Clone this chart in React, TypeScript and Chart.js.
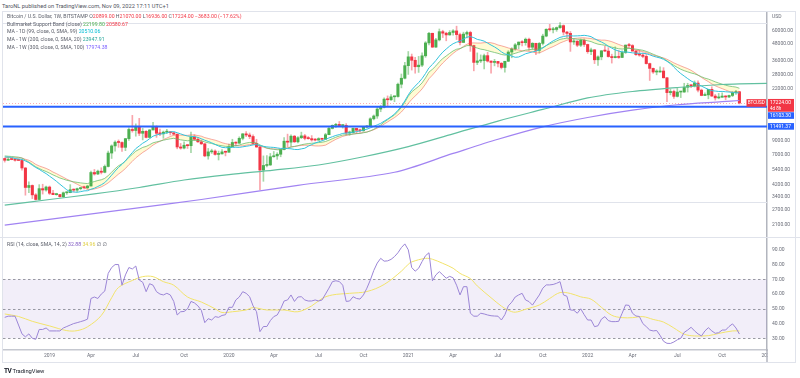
import React, { useEffect, useRef } from "react";
import { Chart, registerables } from "chart.js";

Chart.register(...registerables);

const FONT = 'Roboto, "Noto Sans", "DejaVu Sans", sans-serif';
Chart.defaults.font.family = FONT;

const UP = "#4caf50";
const DOWN = "#f23645";
const BLUE = "#2962ff";
const AXIS_TEXT = "#6a6d78";

// ---- weekly BTCUSD candles (index 0 = week of 2018-10-08) ----
const opens = [
  6600, 6400, 6500, 6480, 6400, 6380, 5600, 4000, 4140, 3520,
  3250, 3920, 3830, 4030, 3620, 3535, 3540, 3410, 3650, 3660,
  3850, 3820, 3920, 3990, 3980, 4100, 5180, 5050, 5300, 5200,
  5750, 7250, 8200, 8750, 8700, 8000, 9300, 10900, 10700, 11400,
  10200, 10550, 9500, 10800, 11500, 10200, 10100, 10400, 10400, 10300,
  10050, 8050, 7900, 8300, 8230, 9550, 9200, 8800, 8500, 6900,
  7400, 7500, 7080, 7150, 7400, 7350, 8100, 8700, 8600, 9350,
  10100, 9900, 9650, 8550, 8050, 5400, 5850, 5900, 6800, 6900,
  7100, 7700, 8900, 8750, 9700, 8800, 9450, 9750, 9350, 9300,
  9100, 9070, 9300, 9200, 9950, 11100, 11700, 11900, 11650, 11700,
  10250, 10300, 11100, 10750, 10650, 11350, 11500, 13100, 13750, 15500,
  16000, 18400, 18200, 19150, 19250, 23800, 26400, 32800, 38200, 36000,
  32200, 33100, 38900, 48600, 57400, 45200, 51200, 59000, 57500, 55800,
  58200, 59800, 56100, 49000, 56600, 58200, 46400, 34700, 35600, 35800,
  39000, 35500, 34700, 35300, 34200, 31800, 35400, 41500, 43800, 47000,
  49300, 48800, 51800, 45100, 48300, 42700, 48200, 54700, 61500, 61000,
  61300, 63300, 65500, 58600, 57300, 49400, 50100, 46700, 50800, 47300,
  41800, 43100, 36300, 38200, 42400, 42200, 38400, 37700, 38400, 37800,
  41200, 46800, 46400, 42200, 39700, 39400, 38500, 34000, 31300, 29400,
  29400, 29900, 26600, 20600, 21000, 19300, 20800, 20800, 22600, 23300,
  23200, 24300, 21500, 19600, 19800, 21800, 19400, 18800, 19000, 19400,
  19100, 19600, 20600, 20899,
];
const highs = [
  6650, 6750, 6560, 6550, 6550, 6500, 5650, 4400, 4180, 3600,
  4200, 4230, 4100, 4100, 3800, 3620, 3560, 3700, 3700, 4200,
  3900, 3950, 4000, 4100, 4150, 5300, 5460, 5400, 5620, 5900,
  7500, 8350, 8950, 9100, 8800, 9350, 11200, 13900, 12000, 13200,
  11100, 10700, 10900, 12300, 11600, 10950, 10600, 10900, 10480, 10300,
  10050, 8550, 8800, 8400, 10400, 9950, 9500, 9100, 8550, 7850,
  7750, 7650, 7500, 7700, 7500, 8450, 9200, 8800, 9600, 10150,
  10500, 10250, 9950, 9200, 8150, 6900, 6950, 7200, 7450, 7300,
  7700, 9450, 10050, 9950, 9850, 9650, 10400, 10000, 9650, 9800,
  9300, 9450, 9350, 10200, 11450, 11800, 12100, 12500, 11800, 12050,
  10600, 11150, 11100, 10950, 11500, 11700, 13350, 14000, 15950, 16500,
  18800, 19450, 19900, 19400, 24300, 28400, 34800, 41900, 40100, 37900,
  38500, 40900, 49700, 58300, 57500, 52600, 61800, 60500, 58500, 60100,
  61300, 64900, 57500, 58500, 59600, 59500, 46700, 40900, 39500, 40000,
  41300, 35700, 36600, 35300, 34600, 35400, 42500, 44700, 48100, 49400,
  50500, 52900, 52900, 48800, 48300, 49000, 56500, 62000, 67000, 63700,
  64000, 69000, 66400, 59400, 59200, 51900, 50500, 52000, 52100, 47600,
  44500, 43500, 38900, 42600, 45800, 44800, 40000, 45400, 42600, 42300,
  46900, 48200, 47200, 42500, 42900, 40800, 40000, 34300, 31500, 30600,
  32200, 31700, 26800, 21900, 21500, 22500, 21000, 24200, 24200, 23500,
  25200, 25200, 21900, 20500, 21800, 22800, 19950, 20300, 20500, 19500,
  19700, 21000, 21400, 21070,
];
const lows = [
  6200, 6380, 6450, 6300, 6360, 5400, 3500, 3650, 3300, 3220,
  3230, 3570, 3750, 3540, 3530, 3500, 3380, 3370, 3550, 3650,
  3700, 3700, 3830, 3900, 3900, 4100, 4950, 5000, 5050, 5150,
  5700, 6600, 7500, 8000, 7450, 7550, 9000, 10400, 9700, 9800,
  9100, 9400, 9400, 10800, 9500, 9800, 9350, 10150, 9900, 9900,
  7800, 7750, 7800, 7850, 7300, 9000, 8700, 8400, 6800, 6520,
  7200, 7000, 6430, 7100, 6900, 7350, 8050, 8250, 8550, 9100,
  9600, 9300, 8500, 8000, 3850, 4450, 5700, 5850, 6750, 6500,
  6800, 7650, 8100, 8150, 8700, 8650, 9300, 9100, 9200, 8900,
  8950, 9050, 9050, 9150, 9950, 11000, 11300, 11500, 11150, 9900,
  9850, 10250, 10150, 10400, 10550, 11200, 11400, 12850, 13200, 14800,
  15800, 16300, 18000, 17600, 19050, 22350, 26100, 28200, 30400, 28800,
  29200, 32300, 37900, 47000, 44900, 45000, 50300, 53300, 50400, 55500,
  55500, 51500, 47000, 48900, 53000, 42000, 30000, 33400, 34600, 31000,
  34900, 28800, 32700, 32100, 31000, 29300, 35200, 37600, 42800, 43900,
  46200, 46700, 42900, 43400, 39600, 40800, 46900, 54000, 59600, 57800,
  59400, 62300, 55600, 53500, 42000, 47300, 45500, 45600, 45700, 40600,
  39600, 34000, 32900, 36300, 41700, 38000, 34300, 37500, 37200, 37600,
  40500, 44900, 42200, 39200, 38600, 37600, 33700, 25400, 28700, 28000,
  29300, 26500, 17600, 19800, 18600, 19100, 18900, 20700, 20800, 22400,
  22700, 20800, 19500, 19500, 18500, 19300, 18100, 18500, 19000, 18200,
  18900, 19200, 20000, 16936,
];
const closes = [
  6400, 6500, 6480, 6400, 6380, 5600, 4000, 4140, 3520, 3250,
  3920, 3830, 4030, 3620, 3535, 3540, 3410, 3650, 3660, 3850,
  3820, 3920, 3990, 3980, 4100, 5180, 5050, 5300, 5200, 5750,
  7250, 8200, 8750, 8700, 8000, 9300, 10900, 10700, 11400, 10200,
  10550, 9500, 10800, 11500, 10200, 10100, 10400, 10400, 10300, 10050,
  8050, 7900, 8300, 8230, 9550, 9200, 8800, 8500, 6900, 7400,
  7500, 7080, 7150, 7400, 7350, 8100, 8700, 8600, 9350, 10100,
  9900, 9650, 8550, 8050, 5400, 5850, 5900, 6800, 6900, 7100,
  7700, 8900, 8750, 9700, 8800, 9450, 9750, 9350, 9300, 9100,
  9070, 9300, 9200, 9950, 11100, 11700, 11900, 11650, 11700, 10250,
  10300, 11100, 10750, 10650, 11350, 11500, 13100, 13750, 15500, 16000,
  18400, 18200, 19150, 19250, 23800, 26400, 32800, 38200, 36000, 32200,
  33100, 38900, 48600, 57400, 45200, 51200, 59000, 57500, 55800, 58200,
  59800, 56100, 49000, 56600, 58200, 46400, 34700, 35600, 35800, 39000,
  35500, 34700, 35300, 34200, 31800, 35400, 41500, 43800, 47000, 49300,
  48800, 51800, 45100, 48300, 42700, 48200, 54700, 61500, 61000, 61300,
  63300, 65500, 58600, 57300, 49400, 50100, 46700, 50800, 47300, 41800,
  43100, 36300, 38200, 42400, 42200, 38400, 37700, 38400, 37800, 41200,
  46800, 46400, 42200, 39700, 39400, 38500, 34000, 31300, 29400, 29400,
  29900, 26600, 20600, 21000, 19300, 20800, 20800, 22600, 23300, 23200,
  24300, 21500, 19600, 19800, 21800, 19400, 18800, 19000, 19400, 19100,
  19600, 20600, 20900, 17224,
];

// ---- MA - 1D (99) ----
const ma99 = [
  6770, 6780, 6720, 6590, 6540, 6490, 6320, 6140, 5870, 5650,
  5470, 5260, 5080, 4860, 4660, 4450, 4230, 4030, 3840, 3710,
  3700, 3680, 3720, 3770, 3780, 3880, 3950, 4070, 4190, 4350,
  4620, 4950, 5310, 5660, 5960, 6340, 6830, 7310, 7830, 8190,
  8590, 8890, 9290, 9700, 9910, 10040, 10160, 10280, 10450, 10500,
  10300, 10100, 9880, 9730, 9660, 9640, 9500, 9280, 9050, 8860,
  8650, 8410, 8190, 8000, 7950, 7960, 7990, 8020, 8000, 8070,
  8150, 8230, 8350, 8390, 8240, 8150, 8060, 8020, 7990, 7920,
  7850, 7870, 7830, 7800, 7720, 7700, 7790, 7880, 8160, 8390,
  8620, 8800, 8960, 9170, 9410, 9610, 9830, 9970, 10180, 10240,
  10280, 10400, 10500, 10620, 10780, 10940, 11210, 11490, 11800, 12110,
  12570, 13040, 13570, 14210, 15180, 16270, 17850, 19810, 21580, 23050,
  24480, 26280, 28640, 31600, 33510, 35870, 38720, 41450, 43740, 46010,
  47940, 49210, 50140, 51890, 53680, 54210, 53220, 51660, 50990, 50120,
  48440, 46810, 45350, 43640, 41640, 40160, 39620, 38710, 37910, 38110,
  39120, 40280, 40940, 41610, 42120, 43090, 44470, 46420, 48510, 50360,
  51910, 53460, 54290, 54860, 54910, 54790, 54900, 55080, 55410, 54950,
  54120, 52320, 50690, 49340, 47840, 45900, 44410, 43060, 42230, 41590,
  41600, 41290, 40920, 40770, 40510, 40660, 40360, 39570, 38660, 38010,
  37460, 36610, 35390, 33940, 31980, 30150, 28620, 27400, 26250, 25160,
  24460, 23760, 23060, 22380, 21800, 21290, 21160, 21010, 21020, 20900,
  20810, 20670, 20500, 20510,
];

// ---- Bull market support band: 20W SMA & 21W EMA ----
const bandSma20 = [
  6750, 6690, 6680, 6670, 6690, 6650, 6510, 6400, 6210, 5960,
  5800, 5680, 5560, 5410, 5220, 5080, 4920, 4770, 4620, 4490,
  4360, 4230, 4100, 3980, 3870, 3850, 3900, 3960, 4040, 4170,
  4330, 4550, 4790, 5040, 5270, 5550, 5930, 6280, 6670, 6990,
  7320, 7600, 7940, 8320, 8620, 8870, 9140, 9390, 9650, 9860,
  9900, 9890, 9860, 9840, 9920, 9910, 9810, 9700, 9470, 9330,
  9180, 9060, 8880, 8670, 8530, 8430, 8340, 8250, 8210, 8210,
  8300, 8390, 8400, 8390, 8180, 8020, 7870, 7790, 7790, 7770,
  7780, 7870, 7950, 8070, 8140, 8210, 8260, 8300, 8300, 8250,
  8200, 8190, 8220, 8310, 8600, 8890, 9190, 9430, 9670, 9830,
  9960, 10070, 10170, 10220, 10350, 10450, 10620, 10840, 11150, 11490,
  11960, 12400, 12900, 13370, 14000, 14740, 15780, 17110, 18320, 19420,
  20560, 21950, 23840, 26180, 27870, 29860, 32150, 34340, 36360, 38470,
  40540, 42430, 43920, 45790, 47510, 48510, 48610, 48480, 48470, 48810,
  48930, 48720, 48050, 46890, 46220, 45430, 44560, 43870, 43430, 42990,
  42440, 42220, 42030, 41610, 40840, 40930, 41930, 43220, 44480, 45600,
  46990, 48530, 49690, 50850, 51730, 52460, 52720, 53070, 53090, 52710,
  52430, 51650, 51310, 51010, 50990, 50500, 49650, 48490, 47330, 46330,
  45500, 44550, 43730, 42850, 42350, 41770, 41130, 40160, 39260, 38640,
  37980, 37500, 36620, 35550, 34400, 33520, 32680, 31890, 31160, 30260,
  29140, 27890, 26760, 25770, 24890, 23930, 23170, 22560, 22060, 21540,
  21030, 20730, 20740, 20581,
];
const bandEma21 = [
  6900, 6860, 6830, 6790, 6750, 6650, 6410, 6200, 5960, 5710,
  5550, 5390, 5270, 5120, 4970, 4840, 4710, 4620, 4530, 4470,
  4410, 4370, 4330, 4300, 4280, 4360, 4430, 4510, 4570, 4680,
  4910, 5210, 5530, 5820, 6020, 6320, 6730, 7090, 7490, 7730,
  7990, 8130, 8370, 8650, 8790, 8910, 9050, 9170, 9270, 9350,
  9230, 9110, 9030, 8960, 9010, 9030, 9010, 8960, 8780, 8650,
  8550, 8410, 8300, 8220, 8140, 8130, 8190, 8220, 8330, 8490,
  8620, 8710, 8700, 8640, 8340, 8120, 7910, 7810, 7730, 7670,
  7680, 7790, 7870, 8040, 8110, 8230, 8370, 8460, 8540, 8590,
  8630, 8690, 8740, 8850, 9050, 9290, 9530, 9720, 9900, 9940,
  9970, 10070, 10130, 10180, 10290, 10400, 10640, 10930, 11340, 11770,
  12370, 12900, 13470, 13990, 14880, 15930, 17470, 19350, 20860, 21900,
  22910, 24370, 26570, 29370, 30810, 32670, 35060, 37100, 38800, 40560,
  42310, 43570, 44060, 45200, 46380, 46380, 45320, 44440, 43650, 43230,
  42530, 41820, 41220, 40590, 39790, 39390, 39580, 39960, 40600, 41390,
  42070, 42950, 43150, 43620, 43530, 43960, 44930, 46440, 47760, 48990,
  50300, 51680, 52310, 52760, 52460, 52240, 51740, 51650, 51260, 50400,
  49730, 48510, 47580, 47110, 46660, 45910, 45160, 44550, 43930, 43690,
  43970, 44190, 44010, 43620, 43230, 42800, 42000, 41030, 39970, 39010,
  38180, 37130, 35630, 34300, 32940, 31830, 30830, 30080, 29470, 28900,
  28480, 27840, 27090, 26430, 26010, 25410, 24810, 24280, 23840, 23410,
  23060, 22840, 22660, 22200,
];

// ---- long MAs (sampled weeks) ----
const ma200Weeks = [0, 13, 26, 39, 52, 65, 78, 91, 104, 117, 130, 143, 156, 169, 182, 195, 208, 213, 221];
const ma200Values = [2950, 3250, 3580, 4000, 4550, 5000, 5400, 5900, 6800, 8100, 10100, 12600, 15400, 18800, 21000, 22500, 23700, 23948, 24150];
const ma300Weeks = [0, 37, 57, 85, 113, 130, 143, 156, 169, 182, 195, 208, 213];
const ma300Values = [2090, 2780, 3250, 4150, 5200, 7200, 9200, 11400, 13400, 15200, 16700, 17600, 17974];

// ---- RSI (14) weekly ----
const rsiValues = [
  44.2, 45, 45, 45, 39, 33, 31, 33, 30, 29.3,
  36, 36, 37, 35, 35, 35, 35, 37, 38, 39,
  40, 40.6, 41.3, 42, 43, 57, 58, 57, 60, 62,
  74, 78, 80, 80, 66, 73, 78, 77, 79, 69.5,
  68, 61.6, 67, 66, 61.6, 60, 59.4, 60.5, 59.4, 55,
  45.8, 48, 48.2, 50, 55, 54, 52, 49, 40.6, 43.3,
  42.4, 44.7, 44.2, 45.5, 46, 51, 51, 56, 58, 61.6,
  60.5, 58.2, 52, 48, 34.5, 38, 38, 42, 44.7, 45.8,
  50, 55.3, 56, 59.4, 55, 58, 58.2, 56, 55.3, 55.3,
  56, 55.3, 56, 60, 64, 68.4, 69, 68.5, 66, 55,
  55.3, 58.2, 57, 56.6, 59.4, 64, 69.5, 76, 81, 84.2,
  82.3, 82.5, 83.5, 85.4, 88, 91.5, 94, 90, 78, 75.5,
  77.5, 82, 86, 88, 69, 73, 75.2, 73, 70.7, 72,
  71, 66, 59.4, 65, 65, 47, 45, 45, 47, 46.5,
  45.8, 45.3, 45.1, 45, 42.4, 46, 52, 54.5, 58, 59.4,
  60.5, 56, 54.9, 52.5, 56, 59.4, 64, 66.2, 66.2, 66.5,
  67.3, 68.4, 59.4, 58.5, 49.2, 49, 47, 50, 46, 42.4,
  42.4, 37.9, 38.5, 43, 44.7, 42, 41.3, 41.3, 41.5, 47,
  52.6, 52.3, 47, 45.1, 44.8, 40, 37.9, 35.6, 35, 35.3,
  32, 28, 26.6, 26.5, 27.5, 29, 30, 34, 35.6, 37.5,
  35, 33, 31.6, 35, 37.2, 35, 33.4, 33.8, 35.6, 35.6,
  38, 39.8, 37, 32.88,
];
const rsiSmaWeeks = [0, 4, 8, 13, 18, 21, 24, 28, 31, 33, 37, 40, 43, 46, 49, 53, 57, 61, 63, 66, 70, 72, 76, 81, 85, 89, 92, 95, 100, 105, 110, 115, 117, 118, 122, 124, 127, 130, 132, 135, 137, 141, 144, 146, 148, 151, 155, 158, 161, 164, 167, 170, 173, 176, 179, 182, 185, 188, 191, 194, 197, 200, 204, 207, 211, 213];
const rsiSmaValues = [46.5, 44.8, 41.5, 38.4, 35.2, 35.2, 37.8, 45.5, 57.5, 64.5, 69.2, 71.8, 71.8, 68.4, 66, 58, 54.6, 50, 47.5, 48, 49.2, 50.8, 49.2, 49.2, 48, 52, 57, 59.4, 60.5, 61.7, 66.5, 75.5, 80.2, 81.8, 84.2, 83.6, 80.8, 77.5, 74, 70.5, 65.5, 57.5, 51.8, 49, 47.7, 49.7, 52.6, 57, 61, 60.4, 58.1, 56.5, 51, 45.6, 44, 44, 44.7, 42.8, 41, 37, 32.8, 31.6, 31.8, 33.3, 35, 34.96];

// ---- levels, ticks, labels ----
const priceTicks = [60000, 48000, 36000, 28000, 22000, 9000, 7000, 5400, 4200, 3400, 2700, 2100];
const rsiTicks = [30, 40, 50, 60, 70, 80, 90];
const rsiBandLevels = [70, 50, 30];
const timeTickWeeks = [13, 25, 38, 52, 65, 78, 91, 104, 117, 130, 143, 156, 169, 182, 195, 208, 221];
const timeTickLabels = ["2019", "Apr", "Jul", "Oct", "2020", "Apr", "Jul", "Oct", "2021", "Apr", "Jul", "Oct", "2022", "Apr", "Jul", "Oct", "2023"];
const guideLevels = [69000, 3100];
const supportLevels = [16103.3, 11491.37];
const lastPrice = 17224;
const countdownLabel = "4d 8h";
const symbolLabel = "BTCUSD";
const currencyLabel = "USD";

const weeks = closes.map((_, i) => i);

const noPad = (s: any) => {
  s.paddingTop = 0;
  s.paddingBottom = 0;
  s.paddingLeft = 0;
  s.paddingRight = 0;
};

const mainOverlay = {
  id: "mainOverlay",
  beforeDatasetsDraw(chart: any) {
    const { ctx, chartArea: a, scales } = chart;
    const y = scales.y;
    ctx.save();
    ctx.strokeStyle = "#e0e3eb";
    ctx.lineWidth = 1;
    guideLevels.forEach((v) => {
      const py = Math.round(y.getPixelForValue(v)) + 0.5;
      ctx.beginPath();
      ctx.moveTo(a.left, py);
      ctx.lineTo(a.right, py);
      ctx.stroke();
    });
    ctx.strokeStyle = "rgba(242,54,69,0.4)";
    ctx.setLineDash([1, 2]);
    const lp = Math.round(y.getPixelForValue(lastPrice)) + 0.5;
    ctx.beginPath();
    ctx.moveTo(a.left, lp);
    ctx.lineTo(a.right, lp);
    ctx.stroke();
    ctx.restore();
  },
  afterDatasetsDraw(chart: any) {
    const { ctx, chartArea: a, scales } = chart;
    const y = scales.y;
    ctx.save();
    ctx.strokeStyle = BLUE;
    ctx.lineWidth = 2;
    supportLevels.forEach((v) => {
      const py = y.getPixelForValue(v);
      ctx.beginPath();
      ctx.moveTo(a.left, py);
      ctx.lineTo(a.right, py);
      ctx.stroke();
    });
    ctx.restore();
  },
  afterDraw(chart: any) {
    const { ctx, chartArea: a, scales } = chart;
    const y = scales.y;
    ctx.save();
    ctx.textBaseline = "middle";
    ctx.textAlign = "left";
    ctx.font = `5px ${FONT}`;
    ctx.fillStyle = AXIS_TEXT;
    ctx.fillText(currencyLabel, a.right + 5, 4.7);
    const yp = y.getPixelForValue(lastPrice);
    ctx.fillStyle = DOWN;
    ctx.fillRect(a.right - 20.5, yp - 3.8, 19.5, 7.6);
    ctx.fillStyle = "#fff";
    ctx.textAlign = "center";
    ctx.font = `4.6px ${FONT}`;
    ctx.fillText(symbolLabel, a.right - 10.75, yp + 0.2);
    ctx.fillStyle = DOWN;
    ctx.fillRect(a.right + 1, yp - 4, 26, 12.8);
    ctx.fillStyle = "#fff";
    ctx.textAlign = "left";
    ctx.font = `5px ${FONT}`;
    ctx.fillText(lastPrice.toFixed(2), a.right + 3, yp + 0.2);
    ctx.font = `4.5px ${FONT}`;
    ctx.fillText(countdownLabel, a.right + 3, yp + 5.8);
    let prevBottom = yp + 8.8;
    supportLevels.forEach((v) => {
      let cy = y.getPixelForValue(v);
      if (cy - 3.3 < prevBottom + 0.5) cy = prevBottom + 3.8;
      ctx.fillStyle = BLUE;
      ctx.fillRect(a.right + 1, cy - 3.3, 26, 6.6);
      ctx.fillStyle = "#fff";
      ctx.font = `5px ${FONT}`;
      ctx.fillText(v.toFixed(2), a.right + 3, cy + 0.2);
      prevBottom = cy + 3.3;
    });
    ctx.restore();
  },
};

const rsiOverlay = {
  id: "rsiOverlay",
  beforeDatasetsDraw(chart: any) {
    const { ctx, chartArea: a, scales } = chart;
    const y = scales.y;
    const y70 = y.getPixelForValue(70);
    const y30 = y.getPixelForValue(30);
    ctx.save();
    ctx.fillStyle = "rgba(126,87,194,0.1)";
    ctx.fillRect(a.left, y70, a.right - a.left, y30 - y70);
    ctx.setLineDash([2.5, 2.5]);
    ctx.strokeStyle = "rgba(120,123,134,0.75)";
    ctx.lineWidth = 1;
    rsiBandLevels.forEach((v) => {
      const py = Math.round(y.getPixelForValue(v)) + 0.5;
      ctx.beginPath();
      ctx.moveTo(a.left, py);
      ctx.lineTo(a.right, py);
      ctx.stroke();
    });
    ctx.restore();
  },
  afterDraw(chart: any) {
    const { ctx, chartArea: a } = chart;
    ctx.save();
    ctx.fillStyle = "#fff";
    ctx.fillRect(a.right + 1, a.bottom + 1, chart.width - a.right, chart.height - a.bottom);
    ctx.strokeStyle = "#b2b5be";
    ctx.lineWidth = 1.5;
    ctx.beginPath();
    ctx.moveTo(a.right, a.bottom);
    ctx.lineTo(a.right, chart.height);
    ctx.stroke();
    ctx.strokeStyle = "#e0e3eb";
    ctx.lineWidth = 1;
    ctx.beginPath();
    ctx.moveTo(0, 0.5);
    ctx.lineTo(chart.width, 0.5);
    ctx.stroke();
    ctx.restore();
  },
};

export default function App() {
  const mainRef = useRef<HTMLCanvasElement>(null);
  const rsiRef = useRef<HTMLCanvasElement>(null);

  useEffect(() => {
    const isUp = weeks.map((i) => closes[i] >= opens[i]);
    const bodyColors = isUp.map((u) => (u ? UP : DOWN));
    const wickColors = isUp.map((u) => (u ? "rgba(76,175,80,0.5)" : "rgba(242,54,69,0.45)"));
    const line = (data: any[], color: string, width: number, order: number, extra: any = {}) => ({
      type: "line",
      data,
      borderColor: color,
      borderWidth: width,
      pointRadius: 0,
      fill: false,
      order,
      ...extra,
    });

    const main = new Chart(mainRef.current as HTMLCanvasElement, {
      type: "bar",
      data: {
        datasets: [
          line(weeks.map((i) => ({ x: i, y: bandEma21[i] })), "rgba(102,187,106,0.75)", 1, 3, {
            fill: "+1",
            backgroundColor: "rgba(255,235,59,0.22)",
          }),
          line(weeks.map((i) => ({ x: i, y: bandSma20[i] })), "rgba(239,83,80,0.5)", 1, 3),
          line(weeks.map((i) => ({ x: i, y: ma99[i] })), "#33c3dc", 1, 2),
          line(ma200Weeks.map((w, k) => ({ x: w, y: ma200Values[k] })), "#62c0a0", 1.2, 2, { tension: 0.3 }),
          line(ma300Weeks.map((w, k) => ({ x: w, y: ma300Values[k] })), "#a183f2", 1.2, 2, { tension: 0.3 }),
          {
            type: "bar",
            data: weeks.map((i) => ({ x: i, y: [lows[i], highs[i]] })),
            backgroundColor: wickColors,
            grouped: false,
            maxBarThickness: 1,
            barPercentage: 1,
            categoryPercentage: 1,
            order: 10,
          },
          {
            type: "bar",
            data: weeks.map((i) => ({ x: i, y: [opens[i], closes[i]] })),
            backgroundColor: bodyColors,
            grouped: false,
            maxBarThickness: 2.4,
            barPercentage: 1,
            categoryPercentage: 1,
            minBarLength: 1,
            order: 9,
          },
        ] as any,
      },
      options: {
        responsive: false,
        animation: false,
        events: [],
        layout: { padding: { left: 3, right: 0, top: 0, bottom: 0 } },
        plugins: {
          legend: { display: false },
          tooltip: { enabled: false },
          filler: { drawTime: "beforeDatasetsDraw" },
        } as any,
        scales: {
          x: { type: "linear", min: -0.5, max: 221, offset: false, display: false },
          y: {
            type: "logarithmic",
            position: "right",
            min: 1700,
            max: 82900,
            afterFit: (s: any) => {
              s.width = 33;
              noPad(s);
            },
            afterBuildTicks: (s: any) => {
              s.ticks = priceTicks.map((v) => ({ value: v }));
            },
            ticks: {
              callback: (v: any) => Number(v).toFixed(2),
              font: { size: 5, family: FONT },
              color: AXIS_TEXT,
              padding: 5,
              autoSkip: false,
            },
            grid: { display: false, drawTicks: false },
            border: { display: true, color: "#b2b5be", width: 1.5 },
          },
        } as any,
      },
      plugins: [mainOverlay],
    } as any);

    const rsi = new Chart(rsiRef.current as HTMLCanvasElement, {
      type: "line",
      data: {
        datasets: [
          line(weeks.map((i) => ({ x: i, y: rsiValues[i] })), "#9b85d6", 1, 1),
          line(rsiSmaWeeks.map((w, k) => ({ x: w, y: rsiSmaValues[k] })), "#f2e36b", 1, 2, { tension: 0.35 }),
        ] as any,
      },
      options: {
        responsive: false,
        animation: false,
        events: [],
        layout: { padding: { left: 3, right: 0, top: 0, bottom: 0 } },
        plugins: { legend: { display: false }, tooltip: { enabled: false } },
        scales: {
          x: {
            type: "linear",
            min: -0.5,
            max: 221,
            offset: false,
            afterFit: (s: any) => {
              s.height = 12;
              noPad(s);
            },
            afterBuildTicks: (s: any) => {
              s.ticks = timeTickWeeks.map((v) => ({ value: v }));
            },
            ticks: {
              callback: (v: any) => {
                const k = timeTickWeeks.indexOf(Number(v));
                return k >= 0 ? timeTickLabels[k] : "";
              },
              font: { size: 5, family: FONT },
              color: AXIS_TEXT,
              padding: 3,
              autoSkip: false,
              maxRotation: 0,
            },
            grid: { display: false, drawTicks: false },
            border: { display: true, color: "#c5c8d0", width: 1.5 },
          },
          y: {
            type: "linear",
            position: "right",
            min: 22.07,
            max: 98.68,
            afterFit: (s: any) => {
              s.width = 33;
              noPad(s);
            },
            afterBuildTicks: (s: any) => {
              s.ticks = rsiTicks.map((v) => ({ value: v }));
            },
            ticks: {
              callback: (v: any) => Number(v).toFixed(2),
              font: { size: 5, family: FONT },
              color: AXIS_TEXT,
              padding: 5,
              autoSkip: false,
            },
            grid: { display: false, drawTicks: false },
            border: { display: true, color: "#b2b5be", width: 1.5 },
          },
        } as any,
      },
      plugins: [rsiOverlay],
    } as any);

    return () => {
      main.destroy();
      rsi.destroy();
    };
  }, []);

  const legendLine = { height: 7.7, lineHeight: "7.7px", whiteSpace: "nowrap" as const };
  const grey = "#5d606b";

  return (
    <div
      style={{
        position: "absolute",
        left: 0,
        top: 0,
        width: 800,
        height: 378,
        background: "#fff",
        overflow: "hidden",
        fontFamily: FONT,
      }}
    >
      <div style={{ position: "absolute", left: 2, top: 2, fontSize: 5.7, lineHeight: "8px", color: "#50535e", whiteSpace: "nowrap" }}>
        TaroNL published on TradingView.com, Nov 09, 2022 17:11 UTC+1
      </div>
      <canvas ref={mainRef} width={800} height={225} style={{ position: "absolute", left: 0, top: 12, width: 800, height: 225 }} />
      <canvas ref={rsiRef} width={800} height={125} style={{ position: "absolute", left: 0, top: 237, width: 800, height: 125 }} />
      <div style={{ position: "absolute", left: 2, top: 11, width: 792, height: 350, border: "1px solid #e0e3eb", pointerEvents: "none" }} />
      <div style={{ position: "absolute", left: 7, top: 12.9, fontSize: 5.2, color: grey }}>
        <div style={legendLine}>
          <span>Bitcoin / U.S. Dollar, 1W, BITSTAMP </span>
          <span> O</span><span style={{ color: DOWN }}>20899.00</span>
          <span> H</span><span style={{ color: DOWN }}>21070.00</span>
          <span> L</span><span style={{ color: DOWN }}>16936.00</span>
          <span> C</span><span style={{ color: DOWN }}>17224.00</span>
          <span style={{ color: DOWN }}> −3683.00 (−17.62%)</span>
        </div>
        <div style={legendLine}>
          <span>Bullmarket Support Band (close) </span>
          <span style={{ color: "#4caf50" }}>22199.80</span>
          <span style={{ color: DOWN }}> 20580.67</span>
        </div>
        <div style={legendLine}>
          <span>MA - 1D (99, close, 0, SMA, 99) </span>
          <span style={{ color: "#00bcd4" }}>20510.06</span>
        </div>
        <div style={legendLine}>
          <span>MA - 1W (200, close, 0, SMA, 20) </span>
          <span style={{ color: "#26a69a" }}>23947.91</span>
        </div>
        <div style={legendLine}>
          <span>MA - 1W (300, close, 0, SMA, 100) </span>
          <span style={{ color: "#7b61ff" }}>17974.38</span>
        </div>
      </div>
      <div style={{ position: "absolute", left: 7, top: 240.5, fontSize: 5.2, color: grey }}>
        <div style={legendLine}>
          <span>RSI (14, close, SMA, 14, 2) </span>
          <span style={{ color: "#7e57c2" }}>32.88</span>
          <span style={{ color: "#e0cf45" }}> 34.96</span>
          <span> ∅ ∅</span>
        </div>
      </div>
      <div style={{ position: "absolute", left: 4, top: 367, fontSize: 5.8, lineHeight: "8px", color: "#131722", whiteSpace: "nowrap" }}>
        <span style={{ fontWeight: 700, fontSize: 6.5, letterSpacing: -0.6 }}>TV</span>
        <span> TradingView</span>
      </div>
    </div>
  );
}
